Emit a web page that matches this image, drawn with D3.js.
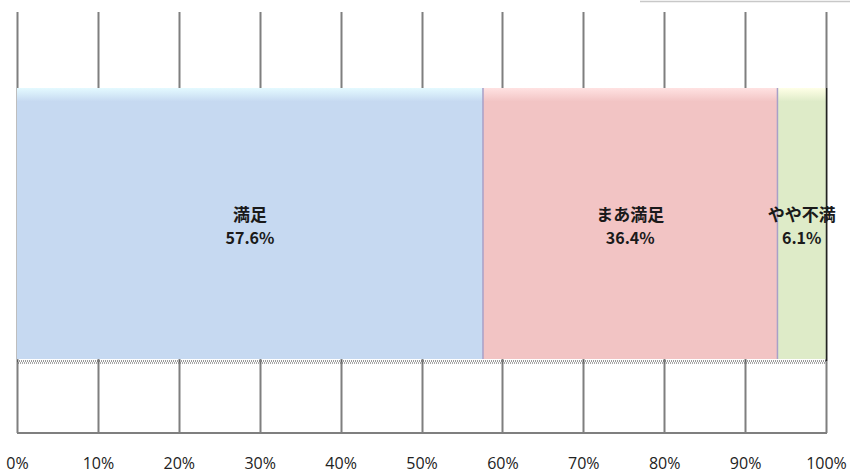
<!DOCTYPE html>
<html><head><meta charset="utf-8">
<script src="https://cdn.jsdelivr.net/npm/d3@7"></script>
<style>body{margin:0;background:#fff}svg{display:block}</style>
</head><body>
<script>
const categories = ["満足", "まあ満足", "やや不満"];
const values = [57.6, 36.4, 6.1];
const colors = ["#c6d9f1", "#f2c4c4", "#deebc8"];
const tickValues = [0,10,20,30,40,50,60,70,80,90,100];

const W = 850, H = 474;
const svg = d3.select("body").append("svg").attr("width", W).attr("height", H);
const x = d3.scaleLinear().domain([0,100]).range([17, 826]);
const yTop = 12, yBot = 433, barTop = 88, barBot = 359;

// top-right faint line
svg.append("line").attr("x1",640).attr("x2",850).attr("y1",1.5).attr("y2",1.5)
  .attr("stroke","#c8c8c8").attr("stroke-width",1.5);

// gridlines
svg.append("g").selectAll("line").data(tickValues).join("line")
  .attr("x1", d=>Math.round(x(d))+0.5).attr("x2", d=>Math.round(x(d))+0.5)
  .attr("y1", yTop).attr("y2", yBot)
  .attr("stroke","#7f7f7f").attr("stroke-width",2);
svg.append("line").attr("x1",x(0)).attr("x2",x(100)+1).attr("y1",yBot).attr("y2",yBot)
  .attr("stroke","#7f7f7f").attr("stroke-width",2);

// stacked data
let cum = 0;
const segs = values.map((v,i)=>{const s={cat:categories[i],v,x0:cum,x1:Math.min(cum+v,100),c:colors[i]};cum+=v;return s;});

const defs = svg.append("defs");
segs.forEach((s,i)=>{
  const g = defs.append("linearGradient").attr("id","g"+i).attr("x1",0).attr("x2",0).attr("y1",0).attr("y2",1);
  g.append("stop").attr("offset","0%").attr("stop-color", d3.color(s.c).brighter(0.4));
  g.append("stop").attr("offset","5%").attr("stop-color", s.c);
  g.append("stop").attr("offset","100%").attr("stop-color", s.c);
});

const bars = svg.append("g");
bars.selectAll("rect").data(segs).join("rect")
  .attr("x", d=>x(d.x0)).attr("width", d=>x(d.x1)-x(d.x0))
  .attr("y", barTop).attr("height", barBot-barTop)
  .attr("fill", (d,i)=>`url(#g${i})`);
// segment separators
bars.selectAll("line.sep").data(segs.slice(1)).join("line").attr("class","sep")
  .attr("x1", d=>x(d.x0)).attr("x2", d=>x(d.x0)).attr("y1", barTop).attr("y2", barBot)
  .attr("stroke","#a8a0c8").attr("stroke-width",1.5);
// right edge
svg.append("line").attr("x1",x(100)+0.5).attr("x2",x(100)+0.5).attr("y1",barTop).attr("y2",barBot+2)
  .attr("stroke","#222").attr("stroke-width",1.5);

// dotted baseline
svg.append("line").attr("x1",x(0)).attr("x2",x(100)).attr("y1",361).attr("y2",361)
  .attr("stroke","#333").attr("stroke-width",1).attr("stroke-dasharray","1,1");
svg.append("line").attr("x1",x(0)+1).attr("x2",x(100)).attr("y1",363).attr("y2",363)
  .attr("stroke","#555").attr("stroke-width",1).attr("stroke-dasharray","1,1");

// labels
const lab = svg.append("g").attr("font-family","'Noto Sans CJK JP', sans-serif")
  .attr("font-weight","bold").attr("font-size",17).attr("fill","#1a1a1a").attr("text-anchor","middle");
lab.selectAll("text.c").data(segs).join("text").attr("class","c")
  .attr("x", d=>(x(d.x0)+x(d.x1))/2).attr("y",221).text(d=>d.cat);
lab.selectAll("text.v").data(segs).join("text").attr("class","v")
  .attr("x", d=>(x(d.x0)+x(d.x1))/2).attr("y",244).attr("font-size",16).text(d=>d.v.toFixed(1)+"%");

// axis
const axis = d3.axisBottom(x).tickValues(tickValues).tickFormat(d=>d+"%").tickSize(0).tickPadding(0);
const ag = svg.append("g").attr("transform","translate(0,469)").call(axis);
ag.select(".domain").remove();
ag.selectAll("text").attr("font-family","'Open Sans', 'Noto Sans', sans-serif").attr("font-size",16)
  .attr("fill","#222").attr("dy","0");
</script>
</body></html>
